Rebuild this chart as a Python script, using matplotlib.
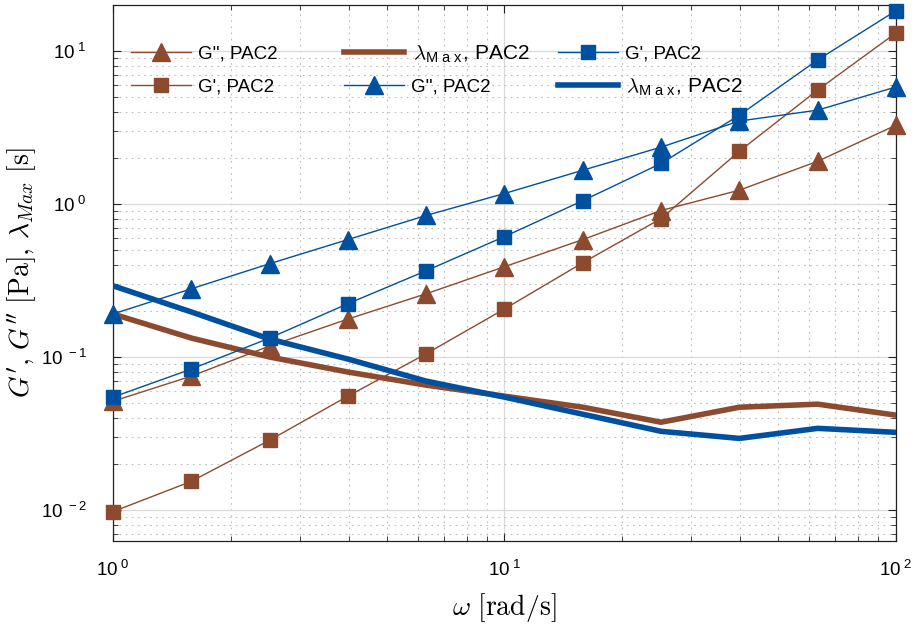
import math
import matplotlib
matplotlib.use("Agg")
import matplotlib.pyplot as plt
from matplotlib.legend import Legend
from matplotlib.ticker import LogLocator, FuncFormatter, NullFormatter

plt.rcParams['font.family'] = ['Liberation Sans', 'DejaVu Sans']
plt.rcParams['mathtext.fontset'] = 'cm'

# Angular frequency sweep [rad/s]
omega = [1.0, 1.585, 2.512, 3.981, 6.310, 10.0, 15.85, 25.12, 39.81, 63.10, 100.0]

# Brown series
g2_brown = [0.0514, 0.075, 0.118, 0.177, 0.259, 0.389, 0.585, 0.906, 1.23, 1.90, 3.27]
g1_brown = [0.00977, 0.0154, 0.0286, 0.0555, 0.105, 0.206, 0.413, 0.803, 2.21, 5.55, 13.1]
lam_brown = [0.191, 0.133, 0.100, 0.0798, 0.0655, 0.0555, 0.047, 0.0375, 0.047, 0.0492, 0.0417]

# Blue series
g2_blue = [0.191, 0.279, 0.407, 0.585, 0.841, 1.17, 1.66, 2.35, 3.48, 4.10, 5.81]
g1_blue = [0.0547, 0.0834, 0.133, 0.223, 0.366, 0.612, 1.05, 1.84, 3.80, 8.73, 18.3]
lam_blue = [0.292, 0.197, 0.131, 0.097, 0.0696, 0.0547, 0.0423, 0.0327, 0.0294, 0.0342, 0.0322]

lam_label = r"$\lambda_{\mathregular{M\ a\ x}}$, PAC2"
legend_labels = ["G'', PAC2", "G', PAC2", lam_label,
                 "G'', PAC2", "G', PAC2", lam_label]

BROWN = '#8C4A2F'
BLUE = '#0050A0'

fig = plt.figure(figsize=(9.14, 6.37), dpi=100)
ax = fig.add_axes([0.1236, 0.151, 0.8567, 0.8415])

kw_marker = dict(lw=1.0, clip_on=False, zorder=3)
h1, = ax.plot(omega, g2_brown, '-^', color=BROWN, ms=13.5, mec=BROWN, **kw_marker)
h2, = ax.plot(omega, g1_brown, '-s', color=BROWN, ms=9.5, mec=BROWN, **kw_marker)
h3, = ax.plot(omega, lam_brown, '-', color=BROWN, lw=4.0, zorder=3)
h4, = ax.plot(omega, g2_blue, '-^', color=BLUE, ms=13.5, mec=BLUE, **kw_marker)
h5, = ax.plot(omega, g1_blue, '-s', color=BLUE, ms=9.5, mec=BLUE, **kw_marker)
h6, = ax.plot(omega, lam_blue, '-', color=BLUE, lw=4.0, zorder=3)

ax.set_xscale('log')
ax.set_yscale('log')
ax.set_xlim(1, 100)
ax.set_ylim(0.0063, 20)

sup = FuncFormatter(lambda v, p: r'$\mathregular{10^{\ %d}}$' % round(math.log10(v)))
for axis in (ax.xaxis, ax.yaxis):
    axis.set_major_locator(LogLocator(base=10))
    axis.set_minor_locator(LogLocator(base=10, subs=range(2, 10)))
    axis.set_major_formatter(sup)
    axis.set_minor_formatter(NullFormatter())

ax.tick_params(which='both', direction='in', top=True, right=True, labelsize=13.5, color='#222222')
ax.tick_params(which='major', length=6, width=0.8)
ax.tick_params(which='minor', length=3.5, width=0.6)
ax.tick_params(axis='x', pad=14)
ax.tick_params(axis='y', pad=19)

ax.grid(True, which='major', color='#d9d9d9', lw=0.9, ls='-')
ax.grid(True, which='minor', color='#bdbdbd', lw=0.8, ls=(0, (1.5, 4)))
ax.set_axisbelow(True)
for s in ax.spines.values():
    s.set_color('#222222')
    s.set_linewidth(0.9)

ax.set_xlabel(r'$\omega\ \mathrm{[rad/s]}$', fontsize=20, labelpad=8)
ax.set_ylabel(r"$G',\,G''\ \mathrm{[Pa]},\,\lambda_{Max}\ \mathrm{[s]}$", fontsize=20, labelpad=2)

# Legend laid out as a 3 x 2 grid of single entries
handles = [h1, h2, h3, h4, h5, h6]
col_x = [0.023, 0.295, 0.568]
row_y = [0.9086, 0.847]
for i, (h, lab) in enumerate(zip(handles, legend_labels)):
    c, r = divmod(i, 2)
    big = lab == lam_label
    leg = Legend(ax, [h], [lab], loc='center left', bbox_to_anchor=(col_x[c], row_y[r]),
                 frameon=False, fontsize=15 if big else 13.5,
                 handlelength=2.9 if big else 3.2, handletextpad=0.4,
                 borderpad=0, borderaxespad=0, numpoints=1)
    ax.add_artist(leg)

fig.savefig('out.png', dpi=100)
